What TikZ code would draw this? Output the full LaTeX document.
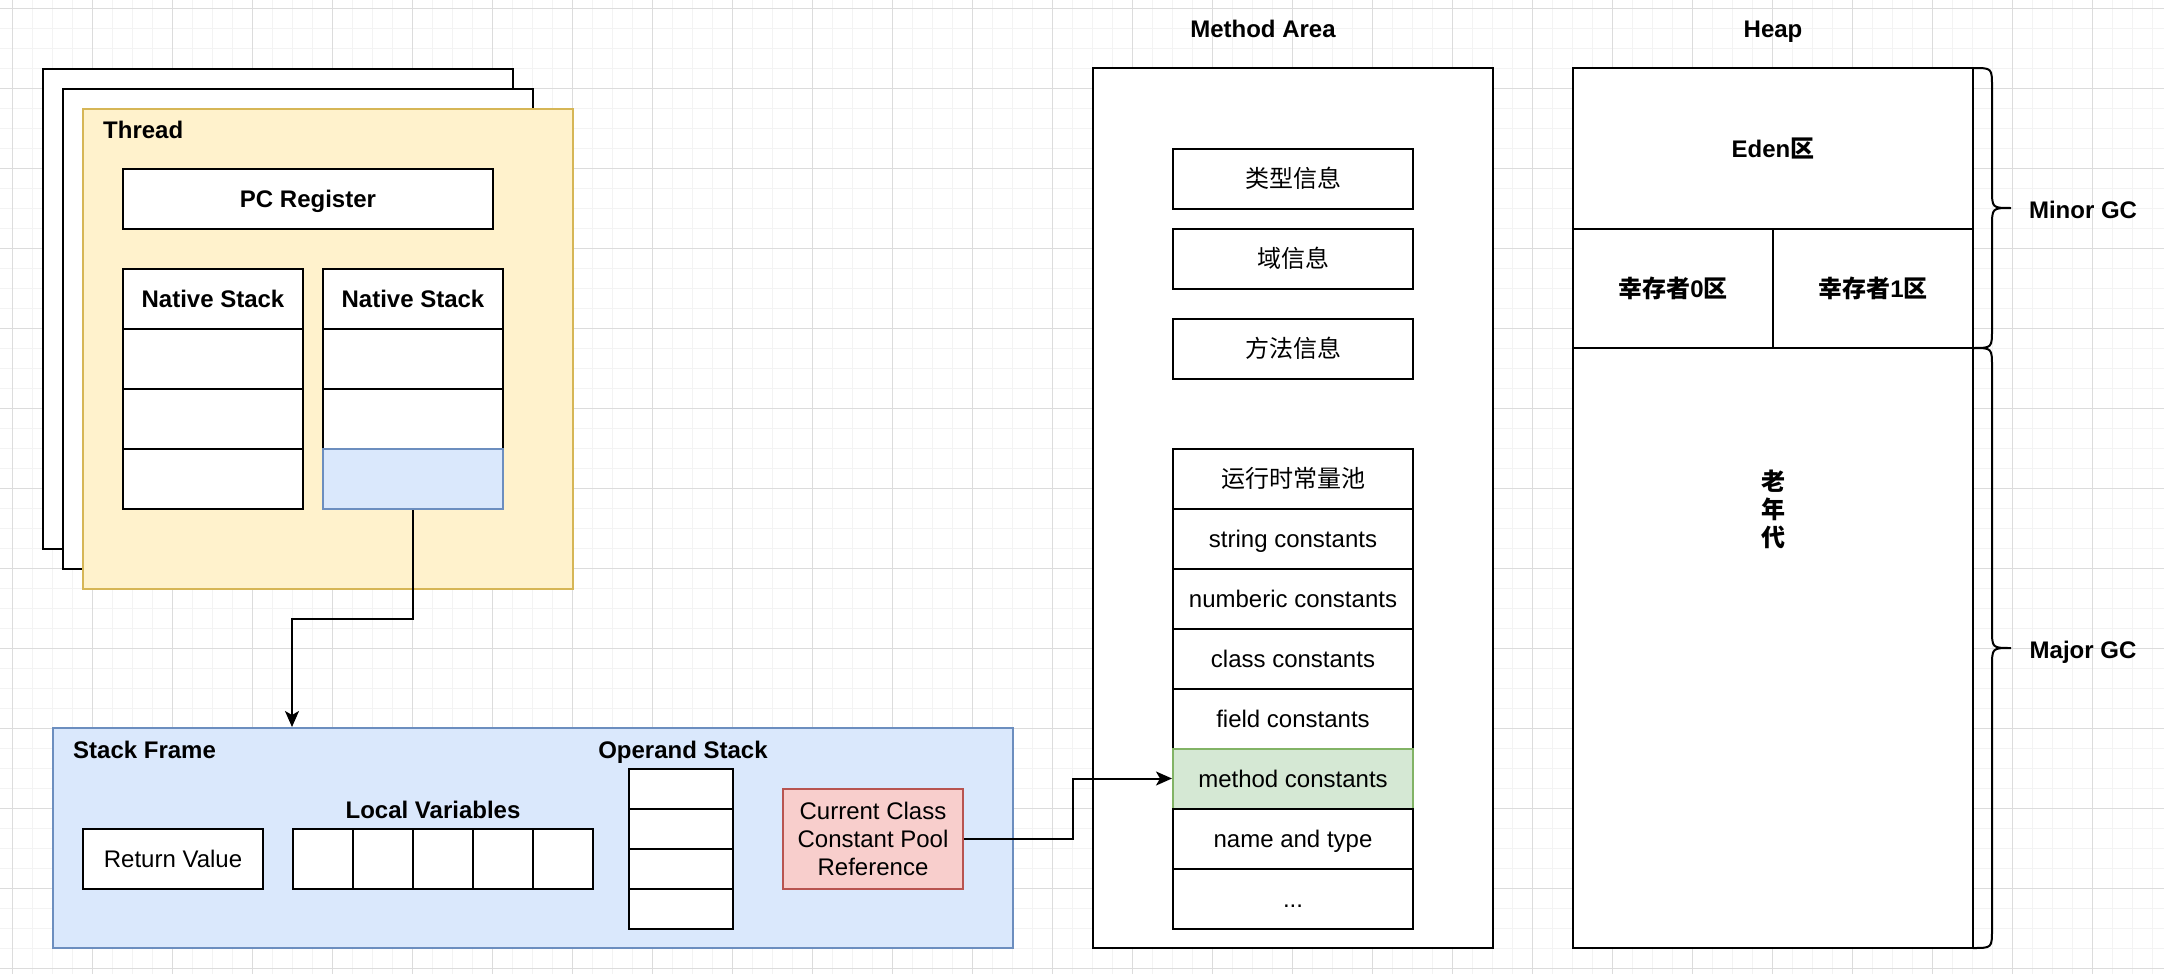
\documentclass[tikz,border=0pt]{standalone}
\usepackage{fontspec}
\setmainfont{Liberation Sans}
\newfontfamily\cjk{Noto Sans CJK SC}
\usetikzlibrary{arrows.meta}
\definecolor{thfill}{HTML}{FFF2CC}
\definecolor{thdraw}{HTML}{D6B656}
\definecolor{blfill}{HTML}{DAE8FC}
\definecolor{bldraw}{HTML}{6C8EBF}
\definecolor{rdfill}{HTML}{F8CECC}
\definecolor{rddraw}{HTML}{B85450}
\definecolor{gnfill}{HTML}{D5E8D4}
\definecolor{gndraw}{HTML}{82B366}
\definecolor{gridminor}{HTML}{F3F3F3}
\definecolor{gridmajor}{HTML}{DCDCDC}
\newcommand\fsz{\fontsize{24}{28}\selectfont}
\begin{document}
\begin{tikzpicture}[x=1pt,y=-1pt,
  box/.style={draw=black, line width=2pt, fill=white, inner sep=0pt, font=\fsz, text height=17pt, text depth=0pt},
  bbox/.style={box, font=\fsz\bfseries},
  lbl/.style={inner sep=0pt, font=\fsz\bfseries, text height=17pt, text depth=0pt},
  ns/.style={box, minimum width=180pt, minimum height=60pt},
  mi/.style={box, minimum width=240pt, minimum height=60pt},
  lv/.style={box, minimum width=60pt, minimum height=60pt},
  op/.style={box, minimum width=104pt, minimum height=40pt},
  arr/.style={line width=2pt, -{Stealth[length=16pt,width=14pt,inset=4pt]}},
  brc/.style={line width=2pt},
  minorgrid/.style={draw=gridminor, line width=1.5pt},
  majorgrid/.style={draw=gridmajor, line width=1pt}
]
\useasboundingbox (0,0) rectangle (2164,974);
\fill[white] (0,0) rectangle (2164,974);
% grid
\foreach \i in {0,...,108} {\draw[minorgrid] ({12.3+20*\i},0) -- ({12.3+20*\i},974);}
\foreach \j in {0,...,48} {\draw[minorgrid] (0,{8.3+20*\j}) -- (2164,{8.3+20*\j});}
\foreach \i in {0,...,27} {\draw[majorgrid] ({12.3+80*\i},0) -- ({12.3+80*\i},974);}
\foreach \j in {0,...,12} {\draw[majorgrid] (0,{8.3+80*\j}) -- (2164,{8.3+80*\j});}

% Thread stack
\node[box, minimum width=470pt, minimum height=480pt] (back1) at (278,309) {};
\node[box, minimum width=470pt, minimum height=480pt] (back2) at (298,329) {};
\node[box, draw=thdraw, fill=thfill, minimum width=490pt, minimum height=480pt] (thread) at (328,349) {};
\node[lbl, anchor=west] (threadlbl) at (103,130) {Thread};
\node[bbox, minimum width=370pt, minimum height=60pt] (pc) at (308,199) {PC Register};
\node[ns, font=\fsz\bfseries] (nsa1) at (213,299) {Native Stack};
\node[ns] (nsa2) at (213,359) {};
\node[ns] (nsa3) at (213,419) {};
\node[ns] (nsa4) at (213,479) {};
\node[ns, font=\fsz\bfseries] (nsb1) at (413,299) {Native Stack};
\node[ns] (nsb2) at (413,359) {};
\node[ns] (nsb3) at (413,419) {};
\node[ns, draw=bldraw, fill=blfill] (nsb4) at (413,479) {};

% Stack frame
\node[box, draw=bldraw, fill=blfill, minimum width=960pt, minimum height=220pt] (sf) at (533,838) {};
\node[lbl, anchor=west] (sflbl) at (73,750) {Stack Frame};
\node[lbl] (oplbl) at (683,750) {Operand Stack};
\node[op] (op1) at (681,789) {};
\node[op] (op2) at (681,829) {};
\node[op] (op3) at (681,869) {};
\node[op] (op4) at (681,909) {};
\node[lbl] (lvlbl) at (433,810) {Local Variables};
\node[lv] (lv1) at (323,859) {};
\node[lv] (lv2) at (383,859) {};
\node[lv] (lv3) at (443,859) {};
\node[lv] (lv4) at (503,859) {};
\node[lv] (lv5) at (563,859) {};
\node[ns] (rv) at (173,859) {Return Value};
\node[box, draw=rddraw, fill=rdfill, minimum width=180pt, minimum height=100pt, align=center, text height=, text depth=] (cc) at (873,839) {Current Class\\Constant Pool\\Reference};

% Method area
\node[lbl] (malbl) at (1263,29) {Method Area};
\node[box, minimum width=400pt, minimum height=880pt] (ma) at (1293,508) {};
\node[mi] (m1) at (1293,178.5) {\cjk 类型信息};
\node[mi] (m2) at (1293,258.5) {\cjk 域信息};
\node[mi] (m3) at (1293,348.5) {\cjk 方法信息};
\node[mi] (c1) at (1293,478.5) {\cjk 运行时常量池};
\node[mi] (c2) at (1293,538.5) {string constants};
\node[mi] (c3) at (1293,598.5) {numberic constants};
\node[mi] (c4) at (1293,658.5) {class constants};
\node[mi] (c5) at (1293,718.5) {field constants};
\node[mi, draw=gndraw, fill=gnfill] (mc) at (1293,778.5) {method constants};
\node[mi] (c7) at (1293,838.5) {name and type};
\node[mi] (c8) at (1293,898.5) {...};

% Heap
\node[lbl] (heaplbl) at (1773,29) {Heap};
\node[bbox, minimum width=400pt, minimum height=161pt] (eden) at (1773,148.5) {Eden{\cjk 区}};
\node[bbox, minimum width=200pt, minimum height=120pt] (s0) at (1673,288.5) {{\cjk 幸存者}0{\cjk 区}};
\node[bbox, minimum width=200pt, minimum height=120pt] (s1) at (1873,288.5) {{\cjk 幸存者}1{\cjk 区}};
\node[box, minimum width=400pt, minimum height=600pt] (old) at (1773,648) {};
\node[inner sep=0pt, align=center, font=\cjk\fsz\bfseries] (oldlbl) at (1773,509) {老\\年\\代};

% Braces
\draw[brc] (1973,68) .. controls (1992,68) .. (1992,87) -- (1992,189) .. controls (1992,208) .. (2011,208) .. controls (1992,208) .. (1992,227) -- (1992,329) .. controls (1992,348) .. (1973,348);
\draw[brc] (1973,348) .. controls (1992,348) .. (1992,367) -- (1992,629) .. controls (1992,648) .. (2011,648) .. controls (1992,648) .. (1992,667) -- (1992,929) .. controls (1992,948) .. (1973,948);
\node[lbl] (minor) at (2083,210) {Minor GC};
\node[lbl] (major) at (2083,650) {Major GC};

% Connectors
\coordinate (bend1) at (413,619);
\draw[arr] (nsb4.south) -- (bend1) -| (sf.north -| lv1.west);
\coordinate (bend2) at (1073,839);
\draw[arr] (cc.east) -- (bend2) |- (mc.west);
\end{tikzpicture}
\end{document}
